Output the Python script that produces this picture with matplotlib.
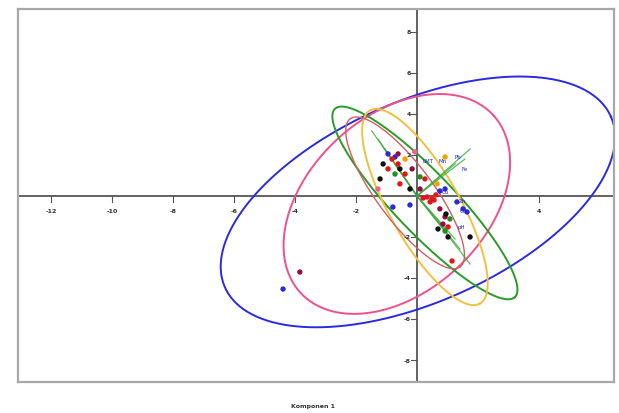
import numpy as np
import matplotlib
matplotlib.use("Agg")
import matplotlib.pyplot as plt

# ---- data (data units) ----
x_ticks = [-12, -10, -8, -6, -4, -2, 4]
y_ticks = [8, 6, 4, 2, -2, -4, -6, -8]
x_title = "Komponen 1"

# confidence ellipses: center, major-axis vector, minor-axis vector
ell_names = ["blue", "pink", "green", "yellow", "red"]
ell_colors = ["#2a2ae0", "#f0508c", "#2a9a2a", "#f0c040", "#d06060"]
ell_center = [(0.03, -0.29), (-0.66, -0.39), (0.26, -0.34), (0.26, -0.54), (-0.39, 0.15)]
ell_major = [(6.33, 4.15), (3.16, 4.33), (2.95, -4.59), (1.80, -4.71), (1.80, -3.61)]
ell_minor = [(1.31, -4.49), (1.95, -3.16), (0.71, 1.01), (1.00, 0.84), (0.74, 0.81)]
ell_width = [1.4, 1.4, 1.4, 1.4, 1.0]

# loading vectors from origin
vec_x = [-1.48, -1.28, -1.05, -0.72, 1.74, 1.41, 1.25, 0.92, 1.57, 1.25, 1.74]
vec_y = [3.17, 2.78, 2.29, 1.56, -3.32, -2.59, -2.10, -1.61, 1.80, 1.56, 2.29]
vec_labels = ["LMT", "Mn", "Pb", "Fe", "Cu", "Zn", "Cd", "pH"]
lab_x = [0.36, 0.85, 1.34, 1.57, 0.92, 1.48, 1.51, 1.44]
lab_y = [1.71, 1.71, 1.90, 1.32, 0.24, -0.24, -0.73, -1.51]

# scores by group
blue_x = [-4.39, -0.95, -0.79, -0.23, 0.75, 1.31, 1.51, 1.64, 0.92, -0.72]
blue_y = [-4.54, 2.05, -0.54, -0.44, 0.24, -0.29, -0.63, -0.78, 0.34, 1.90]
red_x = [-0.82, -0.62, -0.39, 0.33, 0.49, 0.62, 0.43, -0.56, -0.95, 0.26, 1.02, 1.15, 0.20, 0.56]
red_y = [1.80, 1.56, 1.07, -0.05, -0.15, 0.05, -0.29, 0.59, 1.32, 0.83, -1.51, -3.17, -0.10, -0.20]
maroon_x = [-3.84, -0.62, 0.10, 0.75, 0.92, 0.85, -0.16]
maroon_y = [-3.71, 2.05, 0.34, -0.63, -1.02, -1.37, 1.32]
black_x = [-1.11, -0.56, 1.02, 1.74, 0.69, 0.95, -0.23, -1.21]
black_y = [1.56, 1.32, -2.00, -2.00, -1.61, -0.88, 0.34, 0.83]
green_x = [-0.72, 1.08, 0.92, 0.10]
green_y = [1.07, -1.12, -1.71, 0.93]
orange_x = [-0.39, 0.92, 0.66]
orange_y = [1.80, 1.90, 0.59]
pink_x = [-1.28, -0.07]
pink_y = [0.34, 2.15]

fig = plt.figure(figsize=(6.19, 4.14), dpi=100)
ax = fig.add_axes([0.029, 0.075, 0.963, 0.901])
ax.set_xlim(-13.08, 6.46)
ax.set_ylim(-9.07, 9.12)
ax.set_xticks([])
ax.set_yticks([])
for s in ax.spines.values():
    s.set_color("#a8a8a8")
    s.set_linewidth(1.6)

# axes through origin
ax.axhline(0, color="#555555", lw=1.3, zorder=1)
ax.axvline(0, color="#555555", lw=1.3, zorder=1)
for xt in x_ticks:
    ax.plot([xt, xt], [0, -0.3], color="#555555", lw=0.8)
    ax.text(xt, -0.7, str(xt), fontsize=4.5, ha="center", va="center",
            color="#333333", fontweight="bold")
for yt in y_ticks:
    ax.plot([0, -0.2], [yt, yt], color="#555555", lw=0.8)
    ax.text(-0.2, yt, str(yt), fontsize=4.5, ha="right", va="center",
            color="#333333", fontweight="bold")

# ellipses
t = np.linspace(0, 2 * np.pi, 300)
for c, u, v, col, lw in zip(ell_center, ell_major, ell_minor, ell_colors, ell_width):
    ex = c[0] + np.cos(t) * u[0] + np.sin(t) * v[0]
    ey = c[1] + np.cos(t) * u[1] + np.sin(t) * v[1]
    ax.plot(ex, ey, color=col, lw=lw, zorder=2)

# loading vectors
for vx, vy in zip(vec_x, vec_y):
    ax.plot([0, vx], [0, vy], color="#3aa83a", lw=0.9, alpha=0.8, zorder=3)
for lx, ly, lb in zip(lab_x, lab_y, vec_labels):
    ax.text(lx, ly, lb, fontsize=4, color="#2020d0", ha="center", va="center", zorder=5)

ms = 15
ax.scatter(blue_x, blue_y, s=ms, color="#2a2ad8", zorder=4, edgecolors="none")
ax.scatter(red_x, red_y, s=ms, color="#e01818", zorder=4, edgecolors="none")
ax.scatter(maroon_x, maroon_y, s=ms, color="#901040", zorder=4, edgecolors="none")
ax.scatter(black_x, black_y, s=ms, color="#111111", zorder=4, edgecolors="none")
ax.scatter(green_x, green_y, s=ms, color="#209020", zorder=4, edgecolors="none")
ax.scatter(orange_x, orange_y, s=ms, color="#f0a000", zorder=4, edgecolors="none")
ax.scatter(pink_x, pink_y, s=ms, color="#f06090", zorder=4, edgecolors="none")

fig.text(0.505, 0.012, x_title, fontsize=4.5, ha="center", va="bottom",
         color="#333333", fontweight="bold")

fig.savefig("out.png", dpi=100)
